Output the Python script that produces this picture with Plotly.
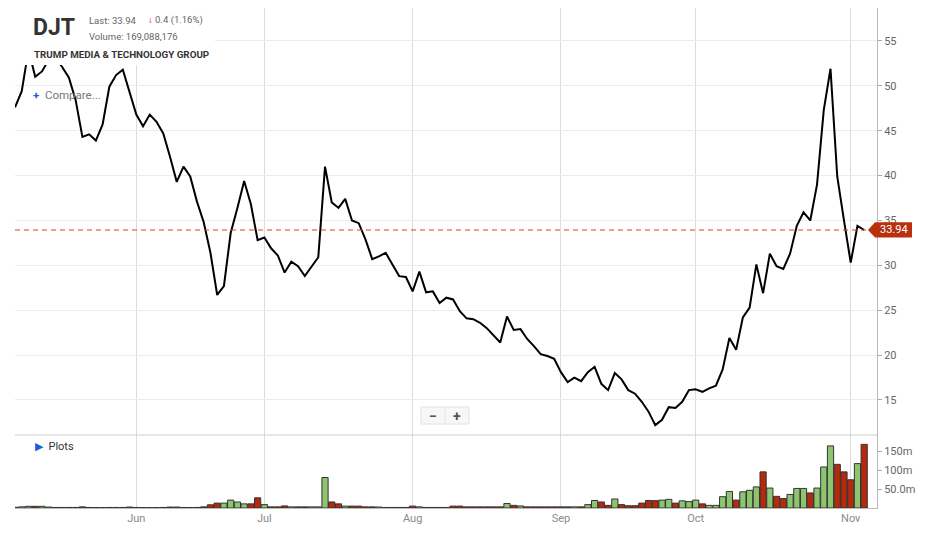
import pandas as pd
import plotly.graph_objs as go

# trading days shown on the chart (NYSE holidays removed)
holidays = ['2024-05-27', '2024-06-19', '2024-07-04', '2024-09-02']
days = [d.strftime('%Y-%m-%d') for d in
        pd.bdate_range('2024-05-07', '2024-11-05', freq='C', holidays=holidays)]

close = [
    47.6, 49.4, 54.0, 51.0, 51.6, 52.9, 53.1, 52.1, 50.9, 48.4,
    44.3, 44.6, 43.9, 45.7, 49.9, 51.2, 51.8, 49.2, 46.8, 45.5,
    46.8, 46.0, 44.7, 42.1, 39.3, 41.0, 39.9, 37.1, 34.8, 31.4,
    26.7, 27.7, 33.6, 36.4, 39.4, 36.8, 32.8, 33.1, 31.9, 31.1,
    29.2, 30.4, 29.9, 28.8, 29.9, 30.9, 41.0, 37.0, 36.4, 37.4,
    35.0, 34.7, 32.9, 30.7, 31.0, 31.4, 30.1, 28.8, 28.7, 27.1,
    29.3, 27.0, 27.1, 25.8, 26.4, 26.2, 24.9, 24.1, 24.0, 23.6,
    23.0, 22.2, 21.4, 24.3, 22.8, 22.9, 21.8, 21.0, 20.1, 19.9,
    19.6, 18.1, 17.0, 17.5, 17.1, 18.1, 18.7, 16.8, 16.1, 18.0,
    17.3, 16.1, 15.7, 14.8, 13.7, 12.2, 12.8, 14.2, 14.1, 14.8,
    16.1, 16.2, 15.9, 16.3, 16.6, 18.4, 21.9, 20.6, 24.2, 25.3,
    30.1, 26.9, 31.3, 29.9, 29.6, 31.3, 34.4, 35.9, 35.0, 39.0,
    47.3, 51.9, 39.9, 35.0, 30.3, 34.4, 33.94,
]

# volume in millions of shares
volume_m = [
    2.0, 3.0, 4.5, 4.5, 4.5, 2.5, 1.5, 1.5, 1.5, 1.5,
    3.0, 1.5, 1.2, 1.2, 1.5, 1.5, 1.5, 2.5, 1.5, 1.2,
    1.2, 1.2, 1.5, 2.5, 2.5, 1.5, 1.2, 1.5, 3.0, 8.5,
    13.0, 13.0, 21.0, 16.0, 11.0, 11.0, 27.0, 9.0, 3.0, 3.0,
    5.5, 3.0, 3.0, 3.0, 3.0, 3.0, 81.0, 16.0, 11.0, 5.0,
    5.0, 5.0, 3.0, 3.0, 2.5, 1.5, 1.5, 1.5, 1.5, 5.0,
    3.0, 1.5, 1.5, 1.5, 1.5, 5.0, 5.0, 3.0, 3.0, 3.0,
    3.0, 3.0, 3.0, 12.0, 7.0, 5.5, 3.0, 3.0, 3.0, 3.0,
    3.0, 3.0, 3.0, 3.0, 3.0, 9.0, 20.0, 16.0, 7.0, 24.0,
    9.0, 6.0, 6.0, 13.0, 20.0, 19.5, 21.0, 23.0, 13.0, 19.0,
    17.0, 21.0, 11.0, 7.0, 7.0, 30.0, 44.0, 21.0, 43.0, 47.0,
    56.0, 96.0, 53.0, 31.0, 25.0, 36.0, 52.0, 52.0, 40.0, 53.0,
    109.0, 165.0, 116.0, 96.0, 75.0, 118.0, 169.088176,
]

month_days = ['2024-06-03', '2024-07-01', '2024-08-01', '2024-09-03', '2024-10-01', '2024-11-01']
month_labels = ['Jun', 'Jul', 'Aug', 'Sep', 'Oct', 'Nov']
price_ticks = [15, 20, 25, 30, 35, 40, 45, 50, 55]
vol_ticks = [50e6, 100e6, 150e6]
vol_labels = ['50.0m', '100m', '150m']

last = close[-1]
GREEN = '#8cc46f'
RED = '#b5290c'
FONT = 'Roboto, sans-serif'

# the page body adds 8px on the left/top, so the figure is sized to land
# the plot area on the same pixels as the reference (x 15..877, y 8..508)
W, H = 940, 528


def px(x):
    # page pixel -> paper, horizontal
    return (x - 15) / 862


def py(y):
    # page pixel -> paper, vertical
    return (508 - y) / 500


vol_colors = [GREEN] + [GREEN if close[i] >= close[i - 1] else RED for i in range(1, len(close))]

price_trace = go.Scatter(
    x=days, y=close, mode='lines', hoverinfo='none',
    line=dict(color='black', width=2),
    xaxis='x', yaxis='y',
)
volume_trace = go.Bar(
    x=days, y=[v * 1e6 for v in volume_m], hoverinfo='none',
    marker=dict(color=vol_colors, line=dict(color='#333333', width=1)),
    xaxis='x2', yaxis='y2',
)

split = py(435)
grid_x = dict(type='category', range=[0, 127.9], showgrid=True, gridcolor='#dcdcdc',
              gridwidth=1, tickvals=month_days, ticktext=month_labels, zeroline=False)

shapes = [
    # last price line
    dict(type='line', xref='paper', yref='y', x0=0, x1=px(868), y0=last, y1=last,
         line=dict(color='#e0401f', width=1, dash='5px,4px')),
    # last price tag
    dict(type='path', xref='paper', yref='y', fillcolor='#b8300e', line=dict(width=0),
         path='M {a} {y} L {b} {t} L {c} {t} L {c} {d} L {b} {d} Z'.format(
             a=px(868), b=px(875), c=px(912), y=last, t=last + 0.85, d=last - 0.85)),
    # panel separator
    dict(type='line', xref='paper', yref='paper', x0=0, x1=1, y0=split, y1=split,
         line=dict(color='#cfcfcf', width=1)),
    # header box
    dict(type='rect', xref='paper', yref='paper', x0=-0.02, x1=px(215), y0=py(65), y1=1.01,
         fillcolor='white', line=dict(width=0), layer='above'),
    # zoom buttons
    dict(type='rect', xref='paper', yref='paper', x0=px(421), x1=px(469), y0=py(424), y1=py(407),
         fillcolor='#f7f7f7', line=dict(color='#e2e2e2', width=1), layer='above'),
    dict(type='line', xref='paper', yref='paper', x0=px(445), x1=px(445), y0=py(423), y1=py(408),
         line=dict(color='#e2e2e2', width=1), layer='above'),
]


def note(text, x, y, size, color, anchor='left'):
    return dict(text=text, xref='paper', yref='paper', x=px(x), y=py(y), xanchor=anchor,
                yanchor='middle', showarrow=False, font=dict(size=size, color=color, family=FONT))


annotations = [
    note('<b>DJT</b>', 31, 27, 23, '#333333'),
    note('Last: 33.94', 87, 20, 9.5, '#666666'),
    note('<span style="color:#e0201c"><b>\u2193</b></span> 0.4 (1.16%)', 146, 20, 9.5, '#666666'),
    note('Volume: 169,088,176', 87, 36, 9.5, '#666666'),
    note('<b>TRUMP MEDIA &amp; TECHNOLOGY GROUP</b>', 32, 55, 9.8, '#333333'),
    note('<span style="color:#1a5fd0"><b>+</b></span>  Compare...', 31, 95, 11.5, '#777777'),
    note('<span style="color:#1a5fd0">\u25b6</span>  Plots', 33, 446, 11, '#333333'),
    note('<b>\u2212</b>', 433, 416, 14, '#555555', 'center'),
    note('<b>+</b>', 457, 416, 14, '#555555', 'center'),
    dict(text='33.94', xref='paper', yref='y', x=px(894), y=last, xanchor='center',
         yanchor='middle', showarrow=False, font=dict(size=11, color='white', family=FONT)),
]

fig = go.Figure(
    data=[price_trace, volume_trace],
    layout=go.Layout(
        width=W, height=H, autosize=False, showlegend=False,
        margin=dict(l=7, r=71, t=0, b=28),
        paper_bgcolor='white', plot_bgcolor='white',
        bargap=0.08,
        xaxis=dict(grid_x, domain=[0, 1], anchor='y', showticklabels=False, ticks=''),
        xaxis2=dict(grid_x, domain=[0, 1], anchor='y2', matches='x', showticklabels=True,
                    ticks='', showline=True, linecolor='#bbbbbb',
                    tickfont=dict(size=11, color='#8a8a8a', family=FONT)),
        yaxis=dict(domain=[split, 1], side='right', range=[11.1, 58.67], tickvals=price_ticks,
                   showgrid=True, gridcolor='#ececec', zeroline=False, showline=True,
                   linecolor='#bbbbbb', ticks='outside', ticklen=4, tickcolor='#aaaaaa',
                   tickfont=dict(size=11, color='#666666', family=FONT)),
        yaxis2=dict(domain=[0, split], side='right', range=[0, 194e6], tickvals=vol_ticks,
                    ticktext=vol_labels, showgrid=False, zeroline=False, showline=True,
                    linecolor='#bbbbbb', ticks='outside', ticklen=4, tickcolor='#aaaaaa',
                    tickfont=dict(size=11, color='#666666', family=FONT)),
        shapes=shapes,
        annotations=annotations,
    ),
)

fig.write_html("out.html")
